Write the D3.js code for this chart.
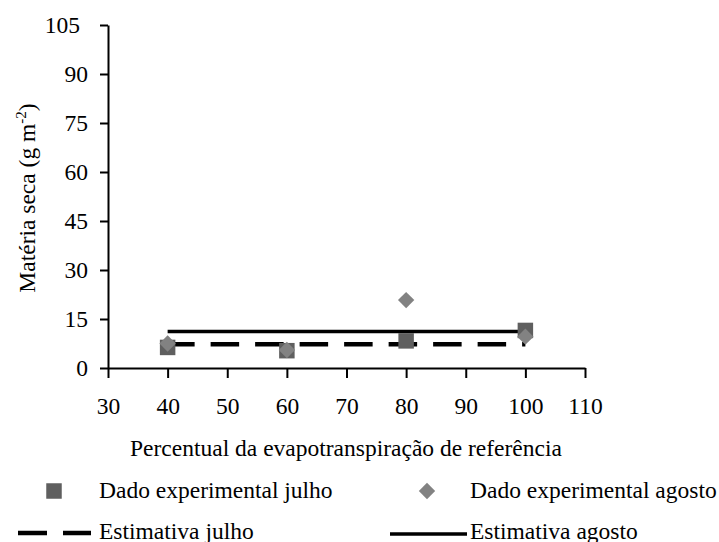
<!DOCTYPE html>
<html>
<head>
<meta charset="utf-8">
<script src="https://cdn.jsdelivr.net/npm/d3@7"></script>
<style>
  body { margin: 0; background: #fff; }
</style>
</head>
<body>
<svg id="chart" width="719" height="542"></svg>
<script>
// Data
const xCats = [40, 60, 80, 100];
const julhoObs = [6.3, 5.3, 8.3, 11.5];
const agostoObs = [7.5, 5.5, 20.8, 9.6];
const julhoEst = [7.3, 7.3];
const agostoEst = [11.2, 11.2];
const estX = [40, 100];
const xTicks = [30, 40, 50, 60, 70, 80, 90, 100, 110];
const yTicks = [0, 15, 30, 45, 60, 75, 90, 105];

const FONT = '"Liberation Serif", "Times New Roman", serif';
const FS = '23.5px';
const svg = d3.select('#chart');
svg.append('rect').attr('width', 719).attr('height', 542).attr('fill', '#fff');

const x = d3.scaleLinear().domain([30, 110]).range([108, 585]);
const y = d3.scaleLinear().domain([0, 105]).range([368, 25]);

// Axes
const xAxis = svg.append('g')
    .attr('transform', `translate(0,${y(0)})`)
    .call(d3.axisBottom(x).tickValues(xTicks).tickSize(10).tickSizeOuter(0).tickPadding(19));
const yAxis = svg.append('g')
    .attr('transform', `translate(${x(30)},0)`)
    .call(d3.axisLeft(y).tickValues(yTicks).tickSize(8).tickSizeOuter(0).tickPadding(12));

[xAxis, yAxis].forEach(a => {
    a.attr('font-family', null).attr('font-size', null);
    a.selectAll('path, line').attr('stroke', '#000').attr('stroke-width', 2);
    a.selectAll('text').attr('fill', '#000')
        .style('font-family', FONT).style('font-size', FS);
});
// top label sits a little further left in the original
yAxis.selectAll('.tick text').filter(d => d === 105).attr('dx', -8);

// Estimate lines
const line = d3.line().x((d, i) => x(estX[i])).y(d => y(d));
svg.append('path')
    .attr('d', line(agostoEst))
    .attr('fill', 'none').attr('stroke', '#000').attr('stroke-width', 3.5);
svg.append('path')
    .attr('d', line(julhoEst))
    .attr('fill', 'none').attr('stroke', '#000').attr('stroke-width', 4.5)
    .attr('stroke-dasharray', '28.5,16').attr('stroke-dashoffset', 1.5);

// Markers (diamonds on top of squares)
const sq = d3.symbol().type(d3.symbolSquare).size(240);
const dia = d3.symbol().type(d3.symbolDiamond2).size(170);
svg.append('g').selectAll('path').data(julhoObs).join('path')
    .attr('d', sq)
    .attr('transform', (d, i) => `translate(${x(xCats[i])},${y(d)})`)
    .attr('fill', '#5f5f5f');
svg.append('g').selectAll('path').data(agostoObs).join('path')
    .attr('d', dia)
    .attr('transform', (d, i) => `translate(${x(xCats[i])},${y(d)})`)
    .attr('fill', '#828282');

function txt(sel) {
    return sel.style('font-family', FONT).style('font-size', FS).attr('fill', '#000');
}

// Axis titles
txt(svg.append('text'))
    .attr('x', 346).attr('y', 456)
    .attr('text-anchor', 'middle')
    .text('Percentual da evapotranspiração de referência');

const yt = txt(svg.append('text'))
    .attr('transform', 'translate(35,198) rotate(-90)')
    .attr('text-anchor', 'middle');
yt.append('tspan').text('Matéria seca (g m');
yt.append('tspan').attr('dy', -9).style('font-size', '15px').text('-2');
yt.append('tspan').attr('dy', 9).text(')');

// Legend
const leg = svg.append('g');
leg.append('path').attr('d', sq).attr('fill', '#5f5f5f').attr('transform', 'translate(54,491)');
txt(leg.append('text')).attr('x', 99).attr('y', 498).text('Dado experimental julho');
leg.append('path').attr('d', dia).attr('fill', '#828282').attr('transform', 'translate(427,491)');
txt(leg.append('text')).attr('x', 470).attr('y', 498).text('Dado experimental agosto');

leg.append('line').attr('x1', 18).attr('x2', 91).attr('y1', 533).attr('y2', 533)
    .attr('stroke', '#000').attr('stroke-width', 4.5).attr('stroke-dasharray', '29,16');
txt(leg.append('text')).attr('x', 99).attr('y', 539).text('Estimativa julho');
leg.append('line').attr('x1', 390).attr('x2', 467).attr('y1', 534).attr('y2', 534)
    .attr('stroke', '#000').attr('stroke-width', 3.5);
txt(leg.append('text')).attr('x', 470).attr('y', 539).text('Estimativa agosto');
</script>
</body>
</html>
